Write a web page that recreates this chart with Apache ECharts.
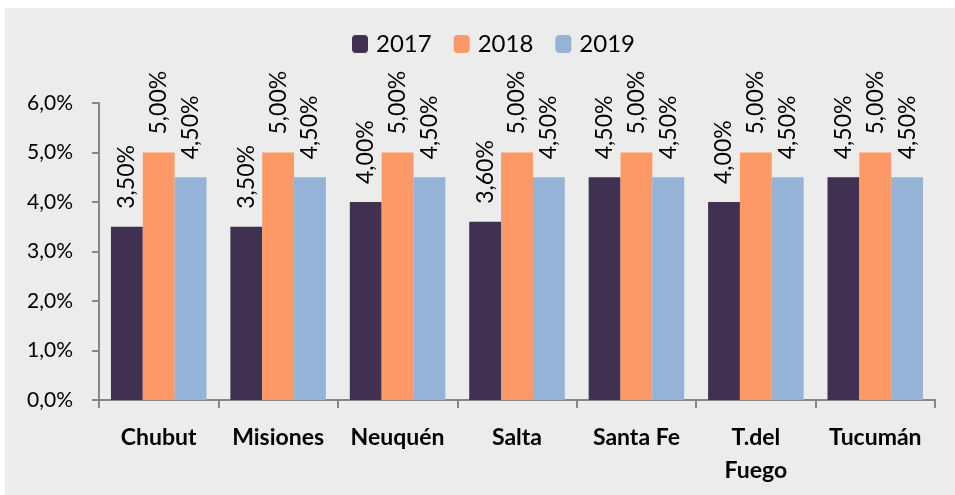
<!DOCTYPE html>
<html>
<head>
    <meta charset="utf-8">
    <title>ECharts</title>
    <script src="https://cdn.jsdelivr.net/npm/echarts@6/dist/echarts.min.js"></script>
    <style>
        html, body { margin: 0; padding: 0; width: 955px; height: 495px; background: #ffffff; }
        #main { position: absolute; left: 5px; top: 8px; width: 950px; height: 487px; background: #ececec; }
    </style>
</head>
<body>
<div id="main"></div>
<script type="text/javascript">
    var categories = ['Chubut', 'Misiones', 'Neuquén', 'Salta', 'Santa Fe', 'T.del\nFuego', 'Tucumán'];
    var years = ['2017', '2018', '2019'];
    var values2017 = [3.5, 3.5, 4.0, 3.6, 4.5, 4.0, 4.5];
    var values2018 = [5.0, 5.0, 5.0, 5.0, 5.0, 5.0, 5.0];
    var values2019 = [4.5, 4.5, 4.5, 4.5, 4.5, 4.5, 4.5];
    var colors = ['#403152', '#fd9966', '#95b3d7'];

    var font = 'Lato, "Open Sans", sans-serif';
    var myChart = echarts.init(document.getElementById('main'));

    function makeSeries(name, data, color) {
        return {
            name: name,
            type: 'bar',
            data: data,
            barGap: '0%',
            barCategoryGap: '20%',
            itemStyle: { color: color },
            label: {
                show: true,
                position: 'top',
                rotate: 90,
                align: 'left',
                verticalAlign: 'middle',
                distance: 18,
                fontSize: 23,
                fontFamily: font,
                color: '#000',
                formatter: function (p) {
                    return p.value.toFixed(2).replace('.', ',') + '%';
                }
            }
        };
    }

    myChart.setOption({
        animation: false,
        color: colors,
        legend: {
            top: 19,
            left: 342,
            itemWidth: 16,
            itemHeight: 18,
            itemGap: 22,
            textStyle: { fontSize: 24, fontFamily: font, color: '#000', padding: [0, 0, 0, 3] },
            data: years
        },
        grid: { left: 94, right: 20, top: 95, bottom: 95 },
        xAxis: {
            type: 'category',
            data: categories,
            axisLine: { lineStyle: { color: '#868686', width: 2 } },
            axisTick: { show: true, length: 8, lineStyle: { color: '#868686', width: 2 } },
            axisLabel: {
                interval: 0,
                fontSize: 23,
                fontWeight: 'bold',
                fontFamily: font,
                color: '#000',
                margin: 21,
                lineHeight: 33
            }
        },
        yAxis: {
            type: 'value',
            min: 0,
            max: 6,
            interval: 1,
            axisLine: { show: true, lineStyle: { color: '#868686', width: 2 } },
            axisTick: { show: true, length: 7, lineStyle: { color: '#868686', width: 2 } },
            splitLine: { show: false },
            axisLabel: {
                fontSize: 21,
                fontFamily: font,
                color: '#000',
                margin: 26,
                formatter: function (v) {
                    return v.toFixed(1).replace('.', ',') + '%';
                }
            }
        },
        series: [
            makeSeries(years[0], values2017, colors[0]),
            makeSeries(years[1], values2018, colors[1]),
            makeSeries(years[2], values2019, colors[2])
        ]
    });
</script>
</body>
</html>
